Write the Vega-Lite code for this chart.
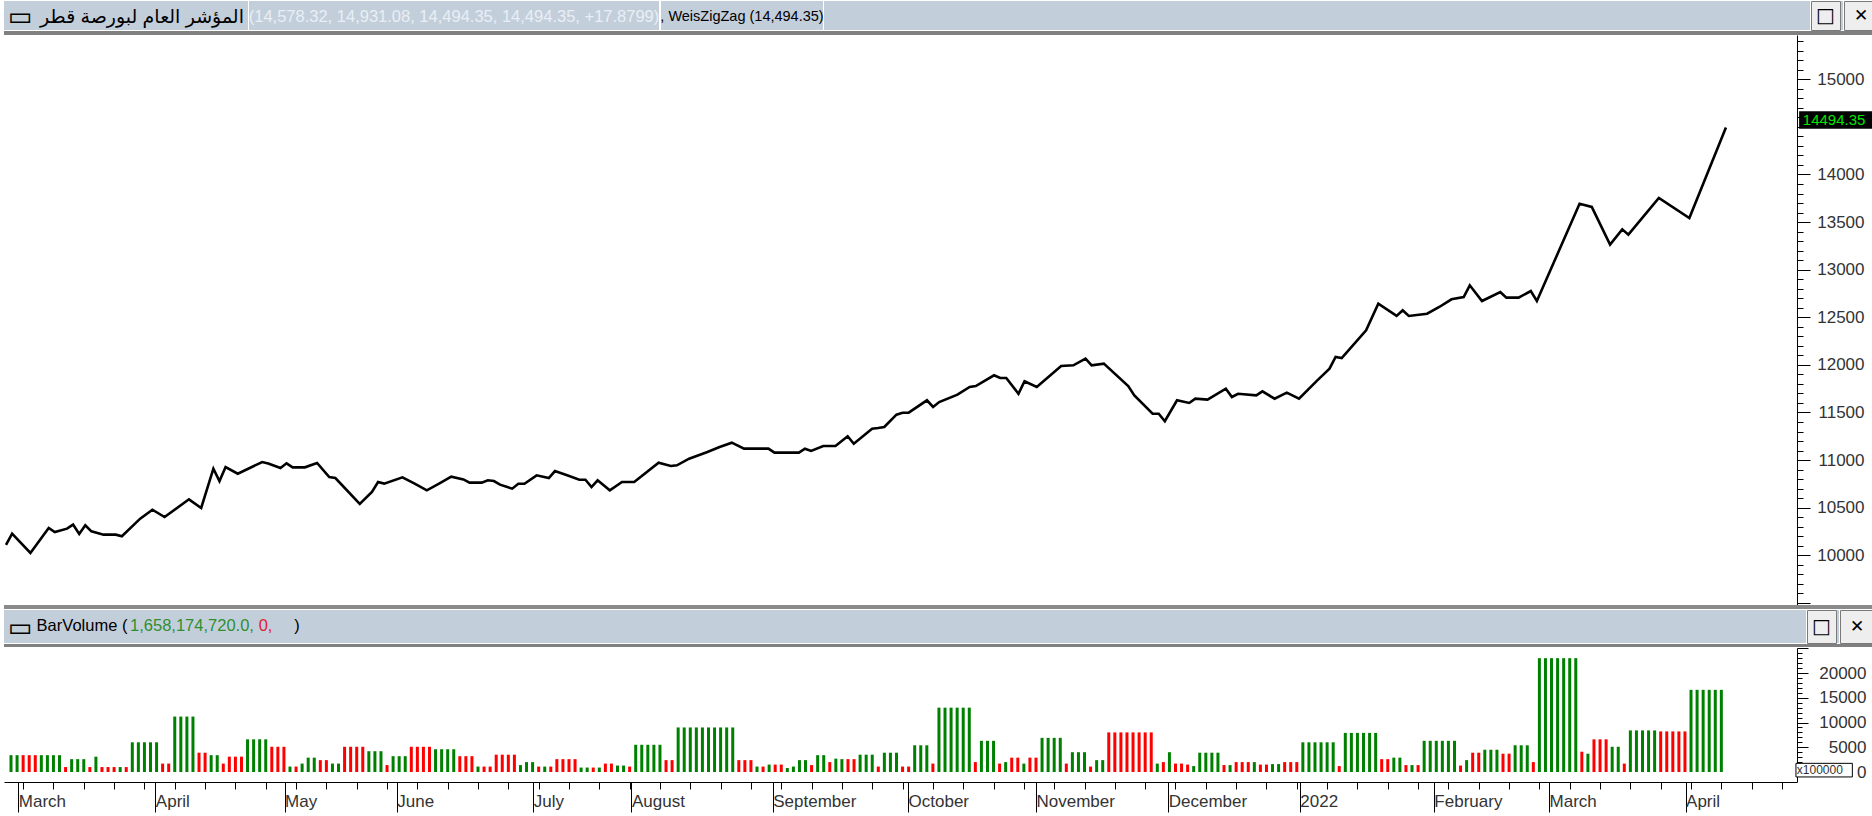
{
"$schema": "https://vega.github.io/schema/vega-lite/v6.json",
"background": "white",
"padding": 0,
"spacing": 0,
"config": {"view": {"stroke": null}, "font": "Liberation Sans"},
"datasets": {
"price": [{"b":0,"p":10110},{"b":1,"p":10227},{"b":4,"p":10024},{"b":7,"p":10287},{"b":8,"p":10245},{"b":10,"p":10280},{"b":11,"p":10322},{"b":12,"p":10224},{"b":13,"p":10315},{"b":14,"p":10252},{"b":16,"p":10217},{"b":18,"p":10217},{"b":19,"p":10200},{"b":22,"p":10385},{"b":24,"p":10479},{"b":26,"p":10402},{"b":30,"p":10588},{"b":32,"p":10497},{"b":34,"p":10910},{"b":35,"p":10780},{"b":36,"p":10927},{"b":38,"p":10857},{"b":42,"p":10980},{"b":43,"p":10965},{"b":45,"p":10917},{"b":46,"p":10966},{"b":47,"p":10924},{"b":49,"p":10924},{"b":51,"p":10970},{"b":53,"p":10822},{"b":54,"p":10812},{"b":58,"p":10539},{"b":60,"p":10665},{"b":61,"p":10770},{"b":62,"p":10753},{"b":65,"p":10819},{"b":67,"p":10753},{"b":69,"p":10683},{"b":71,"p":10753},{"b":73,"p":10826},{"b":75,"p":10797},{"b":76,"p":10763},{"b":78,"p":10763},{"b":79,"p":10788},{"b":80,"p":10780},{"b":81,"p":10742},{"b":83,"p":10700},{"b":84,"p":10752},{"b":85,"p":10752},{"b":87,"p":10840},{"b":89,"p":10812},{"b":90,"p":10885},{"b":92,"p":10840},{"b":94,"p":10794},{"b":95,"p":10794},{"b":96,"p":10717},{"b":97,"p":10788},{"b":99,"p":10683},{"b":101,"p":10770},{"b":103,"p":10770},{"b":107,"p":10973},{"b":109,"p":10938},{"b":110,"p":10945},{"b":112,"p":11015},{"b":115,"p":11085},{"b":117,"p":11138},{"b":119,"p":11183},{"b":121,"p":11120},{"b":125,"p":11120},{"b":126,"p":11078},{"b":130,"p":11078},{"b":131,"p":11120},{"b":132,"p":11096},{"b":134,"p":11148},{"b":136,"p":11148},{"b":138,"p":11250},{"b":139,"p":11172},{"b":142,"p":11330},{"b":143,"p":11337},{"b":144,"p":11348},{"b":146,"p":11477},{"b":147,"p":11498},{"b":148,"p":11498},{"b":151,"p":11628},{"b":152,"p":11558},{"b":153,"p":11610},{"b":156,"p":11687},{"b":158,"p":11768},{"b":159,"p":11778},{"b":162,"p":11891},{"b":163,"p":11862},{"b":164,"p":11862},{"b":166,"p":11697},{"b":167,"p":11828},{"b":169,"p":11768},{"b":173,"p":11988},{"b":175,"p":11996},{"b":177,"p":12065},{"b":178,"p":11996},{"b":180,"p":12013},{"b":184,"p":11778},{"b":185,"p":11680},{"b":188,"p":11487},{"b":189,"p":11487},{"b":190,"p":11408},{"b":192,"p":11628},{"b":194,"p":11600},{"b":195,"p":11645},{"b":197,"p":11635},{"b":200,"p":11750},{"b":201,"p":11663},{"b":202,"p":11697},{"b":205,"p":11680},{"b":206,"p":11722},{"b":208,"p":11645},{"b":210,"p":11708},{"b":212,"p":11645},{"b":215,"p":11838},{"b":217,"p":11960},{"b":218,"p":12083},{"b":219,"p":12072},{"b":223,"p":12363},{"b":225,"p":12643},{"b":228,"p":12514},{"b":229,"p":12574},{"b":230,"p":12514},{"b":233,"p":12538},{"b":235,"p":12608},{"b":237,"p":12689},{"b":239,"p":12713},{"b":240,"p":12836},{"b":242,"p":12671},{"b":245,"p":12766},{"b":246,"p":12706},{"b":248,"p":12706},{"b":250,"p":12776},{"b":251,"p":12671},{"b":258,"p":13693},{"b":260,"p":13659},{"b":263,"p":13263},{"b":265,"p":13424},{"b":266,"p":13368},{"b":271,"p":13753},{"b":276,"p":13543},{"b":282,"p":14494.35}],
"vol": [{"b":0,"v":3400,"c":"g"},{"b":1,"v":3400,"c":"g"},{"b":2,"v":3400,"c":"r"},{"b":3,"v":3400,"c":"r"},{"b":4,"v":3400,"c":"r"},{"b":5,"v":3400,"c":"g"},{"b":6,"v":3400,"c":"g"},{"b":7,"v":3400,"c":"g"},{"b":8,"v":3400,"c":"g"},{"b":9,"v":1000,"c":"r"},{"b":10,"v":2600,"c":"g"},{"b":11,"v":2600,"c":"g"},{"b":12,"v":2600,"c":"g"},{"b":13,"v":1000,"c":"r"},{"b":14,"v":3100,"c":"g"},{"b":15,"v":1000,"c":"r"},{"b":16,"v":1000,"c":"r"},{"b":17,"v":1000,"c":"r"},{"b":18,"v":1000,"c":"g"},{"b":19,"v":1000,"c":"r"},{"b":20,"v":6000,"c":"g"},{"b":21,"v":6000,"c":"g"},{"b":22,"v":6000,"c":"g"},{"b":23,"v":6000,"c":"g"},{"b":24,"v":6000,"c":"g"},{"b":25,"v":1700,"c":"r"},{"b":26,"v":1700,"c":"r"},{"b":27,"v":11200,"c":"g"},{"b":28,"v":11200,"c":"g"},{"b":29,"v":11200,"c":"g"},{"b":30,"v":11200,"c":"g"},{"b":31,"v":3900,"c":"r"},{"b":32,"v":3900,"c":"r"},{"b":33,"v":3400,"c":"g"},{"b":34,"v":3400,"c":"g"},{"b":35,"v":1700,"c":"r"},{"b":36,"v":3100,"c":"r"},{"b":37,"v":3100,"c":"r"},{"b":38,"v":3100,"c":"r"},{"b":39,"v":6600,"c":"g"},{"b":40,"v":6600,"c":"g"},{"b":41,"v":6600,"c":"g"},{"b":42,"v":6600,"c":"g"},{"b":43,"v":5100,"c":"r"},{"b":44,"v":5100,"c":"r"},{"b":45,"v":5100,"c":"r"},{"b":46,"v":1100,"c":"g"},{"b":47,"v":1100,"c":"r"},{"b":48,"v":1700,"c":"g"},{"b":49,"v":2900,"c":"g"},{"b":50,"v":2900,"c":"g"},{"b":51,"v":2400,"c":"r"},{"b":52,"v":2400,"c":"r"},{"b":53,"v":1700,"c":"g"},{"b":54,"v":1700,"c":"g"},{"b":55,"v":5100,"c":"r"},{"b":56,"v":5100,"c":"r"},{"b":57,"v":5100,"c":"r"},{"b":58,"v":5100,"c":"r"},{"b":59,"v":4200,"c":"g"},{"b":60,"v":4200,"c":"g"},{"b":61,"v":4200,"c":"g"},{"b":62,"v":1400,"c":"r"},{"b":63,"v":3200,"c":"g"},{"b":64,"v":3200,"c":"g"},{"b":65,"v":3200,"c":"g"},{"b":66,"v":5100,"c":"r"},{"b":67,"v":5100,"c":"r"},{"b":68,"v":5100,"c":"r"},{"b":69,"v":5100,"c":"r"},{"b":70,"v":4600,"c":"g"},{"b":71,"v":4600,"c":"g"},{"b":72,"v":4600,"c":"g"},{"b":73,"v":4600,"c":"g"},{"b":74,"v":3200,"c":"r"},{"b":75,"v":3200,"c":"r"},{"b":76,"v":3200,"c":"r"},{"b":77,"v":1100,"c":"g"},{"b":78,"v":1100,"c":"r"},{"b":79,"v":1100,"c":"r"},{"b":80,"v":3500,"c":"r"},{"b":81,"v":3500,"c":"r"},{"b":82,"v":3500,"c":"r"},{"b":83,"v":3500,"c":"r"},{"b":84,"v":1400,"c":"g"},{"b":85,"v":2000,"c":"g"},{"b":86,"v":2000,"c":"g"},{"b":87,"v":1100,"c":"r"},{"b":88,"v":1100,"c":"g"},{"b":89,"v":1100,"c":"r"},{"b":90,"v":2600,"c":"r"},{"b":91,"v":2600,"c":"r"},{"b":92,"v":2600,"c":"r"},{"b":93,"v":2600,"c":"r"},{"b":94,"v":900,"c":"g"},{"b":95,"v":900,"c":"g"},{"b":96,"v":900,"c":"r"},{"b":97,"v":900,"c":"g"},{"b":98,"v":1700,"c":"r"},{"b":99,"v":1700,"c":"r"},{"b":100,"v":1300,"c":"g"},{"b":101,"v":1300,"c":"g"},{"b":102,"v":1100,"c":"r"},{"b":103,"v":5500,"c":"g"},{"b":104,"v":5500,"c":"g"},{"b":105,"v":5500,"c":"g"},{"b":106,"v":5500,"c":"g"},{"b":107,"v":5500,"c":"g"},{"b":108,"v":2400,"c":"r"},{"b":109,"v":2400,"c":"r"},{"b":110,"v":9000,"c":"g"},{"b":111,"v":9000,"c":"g"},{"b":112,"v":9000,"c":"g"},{"b":113,"v":9000,"c":"g"},{"b":114,"v":9000,"c":"g"},{"b":115,"v":9000,"c":"g"},{"b":116,"v":9000,"c":"g"},{"b":117,"v":9000,"c":"g"},{"b":118,"v":9000,"c":"g"},{"b":119,"v":9000,"c":"g"},{"b":120,"v":2400,"c":"r"},{"b":121,"v":2400,"c":"r"},{"b":122,"v":2400,"c":"r"},{"b":123,"v":1100,"c":"g"},{"b":124,"v":1100,"c":"r"},{"b":125,"v":1500,"c":"g"},{"b":126,"v":1500,"c":"r"},{"b":127,"v":1500,"c":"r"},{"b":128,"v":800,"c":"g"},{"b":129,"v":1100,"c":"g"},{"b":130,"v":2400,"c":"g"},{"b":131,"v":2400,"c":"g"},{"b":132,"v":1400,"c":"r"},{"b":133,"v":3400,"c":"g"},{"b":134,"v":3400,"c":"g"},{"b":135,"v":2000,"c":"r"},{"b":136,"v":2700,"c":"g"},{"b":137,"v":2600,"c":"g"},{"b":138,"v":2600,"c":"r"},{"b":139,"v":2600,"c":"r"},{"b":140,"v":3500,"c":"g"},{"b":141,"v":3500,"c":"g"},{"b":142,"v":3500,"c":"g"},{"b":143,"v":1100,"c":"r"},{"b":144,"v":3900,"c":"g"},{"b":145,"v":3900,"c":"g"},{"b":146,"v":3900,"c":"g"},{"b":147,"v":1100,"c":"r"},{"b":148,"v":1100,"c":"r"},{"b":149,"v":5400,"c":"g"},{"b":150,"v":5400,"c":"g"},{"b":151,"v":5400,"c":"g"},{"b":152,"v":1700,"c":"r"},{"b":153,"v":13000,"c":"g"},{"b":154,"v":13000,"c":"g"},{"b":155,"v":13000,"c":"g"},{"b":156,"v":13000,"c":"g"},{"b":157,"v":13000,"c":"g"},{"b":158,"v":13000,"c":"g"},{"b":159,"v":2000,"c":"r"},{"b":160,"v":6300,"c":"g"},{"b":161,"v":6300,"c":"g"},{"b":162,"v":6300,"c":"g"},{"b":163,"v":1700,"c":"r"},{"b":164,"v":2000,"c":"g"},{"b":165,"v":2900,"c":"r"},{"b":166,"v":2900,"c":"r"},{"b":167,"v":1700,"c":"g"},{"b":168,"v":2900,"c":"r"},{"b":169,"v":2900,"c":"r"},{"b":170,"v":6900,"c":"g"},{"b":171,"v":6900,"c":"g"},{"b":172,"v":6900,"c":"g"},{"b":173,"v":6900,"c":"g"},{"b":174,"v":1700,"c":"r"},{"b":175,"v":4000,"c":"g"},{"b":176,"v":4000,"c":"g"},{"b":177,"v":4000,"c":"g"},{"b":178,"v":1100,"c":"r"},{"b":179,"v":2400,"c":"g"},{"b":180,"v":2400,"c":"g"},{"b":181,"v":8000,"c":"r"},{"b":182,"v":8000,"c":"r"},{"b":183,"v":8000,"c":"r"},{"b":184,"v":8000,"c":"r"},{"b":185,"v":8000,"c":"r"},{"b":186,"v":8000,"c":"r"},{"b":187,"v":8000,"c":"r"},{"b":188,"v":8000,"c":"r"},{"b":189,"v":1700,"c":"g"},{"b":190,"v":2000,"c":"r"},{"b":191,"v":4000,"c":"g"},{"b":192,"v":1700,"c":"r"},{"b":193,"v":1700,"c":"r"},{"b":194,"v":1500,"c":"r"},{"b":195,"v":1200,"c":"g"},{"b":196,"v":3900,"c":"g"},{"b":197,"v":3900,"c":"g"},{"b":198,"v":3900,"c":"g"},{"b":199,"v":3900,"c":"g"},{"b":200,"v":1400,"c":"r"},{"b":201,"v":1400,"c":"g"},{"b":202,"v":2000,"c":"r"},{"b":203,"v":2000,"c":"r"},{"b":204,"v":2000,"c":"r"},{"b":205,"v":2000,"c":"g"},{"b":206,"v":1500,"c":"r"},{"b":207,"v":1500,"c":"r"},{"b":208,"v":1600,"c":"g"},{"b":209,"v":1600,"c":"g"},{"b":210,"v":2000,"c":"r"},{"b":211,"v":2000,"c":"r"},{"b":212,"v":2000,"c":"r"},{"b":213,"v":6000,"c":"g"},{"b":214,"v":6000,"c":"g"},{"b":215,"v":6000,"c":"g"},{"b":216,"v":6000,"c":"g"},{"b":217,"v":6000,"c":"g"},{"b":218,"v":6000,"c":"g"},{"b":219,"v":1200,"c":"r"},{"b":220,"v":7900,"c":"g"},{"b":221,"v":7900,"c":"g"},{"b":222,"v":7900,"c":"g"},{"b":223,"v":7900,"c":"g"},{"b":224,"v":7900,"c":"g"},{"b":225,"v":7900,"c":"g"},{"b":226,"v":2600,"c":"r"},{"b":227,"v":2600,"c":"r"},{"b":228,"v":2900,"c":"g"},{"b":229,"v":2900,"c":"g"},{"b":230,"v":1400,"c":"r"},{"b":231,"v":1400,"c":"g"},{"b":232,"v":1400,"c":"r"},{"b":233,"v":6300,"c":"g"},{"b":234,"v":6300,"c":"g"},{"b":235,"v":6300,"c":"g"},{"b":236,"v":6300,"c":"g"},{"b":237,"v":6300,"c":"g"},{"b":238,"v":6300,"c":"g"},{"b":239,"v":1300,"c":"r"},{"b":240,"v":2400,"c":"g"},{"b":241,"v":3900,"c":"r"},{"b":242,"v":3900,"c":"r"},{"b":243,"v":4500,"c":"g"},{"b":244,"v":4500,"c":"g"},{"b":245,"v":4500,"c":"g"},{"b":246,"v":3700,"c":"r"},{"b":247,"v":3700,"c":"r"},{"b":248,"v":5400,"c":"g"},{"b":249,"v":5400,"c":"g"},{"b":250,"v":5400,"c":"g"},{"b":251,"v":2000,"c":"r"},{"b":252,"v":23000,"c":"g"},{"b":253,"v":23000,"c":"g"},{"b":254,"v":23000,"c":"g"},{"b":255,"v":23000,"c":"g"},{"b":256,"v":23000,"c":"g"},{"b":257,"v":23000,"c":"g"},{"b":258,"v":23000,"c":"g"},{"b":259,"v":4100,"c":"r"},{"b":260,"v":3700,"c":"g"},{"b":261,"v":6600,"c":"r"},{"b":262,"v":6600,"c":"r"},{"b":263,"v":6600,"c":"r"},{"b":264,"v":5100,"c":"g"},{"b":265,"v":5100,"c":"g"},{"b":266,"v":1700,"c":"r"},{"b":267,"v":8400,"c":"g"},{"b":268,"v":8400,"c":"g"},{"b":269,"v":8400,"c":"g"},{"b":270,"v":8400,"c":"g"},{"b":271,"v":8400,"c":"g"},{"b":272,"v":8200,"c":"r"},{"b":273,"v":8200,"c":"r"},{"b":274,"v":8200,"c":"r"},{"b":275,"v":8200,"c":"r"},{"b":276,"v":8200,"c":"r"},{"b":277,"v":16600,"c":"g"},{"b":278,"v":16600,"c":"g"},{"b":279,"v":16600,"c":"g"},{"b":280,"v":16600,"c":"g"},{"b":281,"v":16600,"c":"g"},{"b":282,"v":16600,"c":"g"}]
},
"vconcat": [
{"hconcat": [
  {"width":32,"height":29,"view":{"fill":"#c3cedb","stroke":null},"data":{"values":[{"t":"▭"}]},"mark":{"type":"text","align":"center","baseline":"middle","dy":1,"font":"DejaVu Sans","fontSize":26,"fontWeight":"bold","color":"black"},"encoding":{"text":{"field":"t"}}},
  {"width":212,"height":29,"view":{"fill":"#c3cedb","stroke":null},"data":{"values":[{"t":"المؤشر العام لبورصة قطر"}]},"mark":{"type":"text","align":"center","baseline":"middle","dy":1,"font":"Liberation Sans, DejaVu Sans","fontSize":19,"color":"black"},"encoding":{"text":{"field":"t"}}},
  {"width":410,"height":29,"view":{"fill":"#c3cedb","stroke":null},"data":{"values":[{"t":"(14,578.32, 14,931.08, 14,494.35, 14,494.35, +17.8799)"}]},"mark":{"type":"text","align":"center","baseline":"middle","dy":1,"font":"Liberation Sans","fontSize":16.5,"color":"#e9eef4"},"encoding":{"text":{"field":"t"}}},
  {"width":162,"height":29,"view":{"fill":"#c3cedb","stroke":null},"data":{"values":[{"t":", WeisZigZag (14,494.35)"}]},"mark":{"type":"text","align":"center","baseline":"middle","dy":1,"font":"Liberation Sans","fontSize":14.5,"color":"black"},"encoding":{"text":{"field":"t"}}},
  {"width":984,"height":29,"view":{"fill":"#c3cedb","stroke":null},"data":{"values":[{}]},"mark":{"type":"text","text":"","fontSize":1}},
  {"width":2,"height":29,"view":{"fill":"#c3cedb","stroke":null},"data":{"values":[{}]},"mark":{"type":"text","text":"","fontSize":1}},
  {"width":29,"height":29,"view":{"fill":"#eeeeee","stroke":"#7a7a7a"},"data":{"values":[{"t":"□"}]},"mark":{"type":"text","align":"center","baseline":"middle","font":"DejaVu Sans","fontSize":20,"fontWeight":"bold","color":"black"},"encoding":{"text":{"field":"t"}}},
  {"width":2,"height":29,"view":{"fill":"#c3cedb","stroke":null},"data":{"values":[{}]},"mark":{"type":"text","text":"","fontSize":1}},
  {"width":34,"height":29,"view":{"fill":"#eeeeee","stroke":"#7a7a7a"},"data":{"values":[{"t":"✕"}]},"mark":{"type":"text","align":"center","baseline":"middle","font":"DejaVu Sans","fontSize":17,"fontWeight":"bold","color":"black"},"encoding":{"text":{"field":"t"}}},
  {"width":5,"height":29,"view":{"fill":"#c3cedb","stroke":null},"data":{"values":[{}]},"mark":{"type":"text","text":"","fontSize":1}}
],"spacing":0},
{"width":1872,"height":4,"view":{"fill":"#808080","stroke":null},"data":{"values":[{}]},"mark":{"type":"text","text":"","fontSize":1}},
{"width":1872,"height":570,"view":{"fill":"white","stroke":null},
 "layer":[
  {"data":{"name":"price"},"mark":{"type":"line","color":"black","strokeWidth":2.6},
   "encoding":{
    "x":{"field":"b","type":"quantitative","scale":{"domain":[-0.33,293.65],"range":[0,1793],"nice":false,"zero":false},"axis":null},
    "y":{"field":"p","type":"quantitative","scale":{"domain":[9478,15465],"nice":false,"zero":false},
     "axis":{"orient":"right","offset":-79,"tickCount":1000,"values":[9500,9600,9700,9800,9900,10000,10100,10200,10300,10400,10500,10600,10700,10800,10900,11000,11100,11200,11300,11400,11500,11600,11700,11800,11900,12000,12100,12200,12300,12400,12500,12600,12700,12800,12900,13000,13100,13200,13300,13400,13500,13600,13700,13800,13900,14000,14100,14200,14300,14400,14500,14600,14700,14800,14900,15000,15100,15200,15300,15400],
      "format":"d","labelExpr":"datum.value % 500 === 0 && datum.value >= 10000 && datum.value != 14500 ? datum.label : ''",
      "labelFontSize":{"condition":{"test":"datum.value % 500 === 0 && datum.value >= 10000 && datum.value != 14500","value":17},"value":1},
      "tickSize":{"condition":{"test":"datum.value % 500 === 0","value":13},"value":6},
      "tickColor":"black","domainColor":"black","labelColor":"#333333","labelFont":"Liberation Sans",
      "labelAlign":"right","labelBaseline":"middle","labelPadding":54,"labelOverlap":false,"labelFlush":false,"grid":false,"title":null}}
   }},
  {"data":{"values":[{"p":14494.35}]},"mark":{"type":"rect","color":"black"},
   "encoding":{"x":{"datum":294.0},"x2":{"datum":306.8},"y":{"datum":14665},"y2":{"datum":14480}}},
  {"data":{"values":[{"t":"14494.35"}]},"mark":{"type":"text","align":"left","baseline":"middle","color":"#00e600","fontSize":15,"font":"Liberation Sans"},
   "encoding":{"x":{"datum":294.6},"y":{"datum":14572},"text":{"field":"t"}}}
 ]},
{"width":1872,"height":4,"view":{"fill":"#8a8a8a","stroke":null},"data":{"values":[{}]},"mark":{"type":"text","text":"","fontSize":1}},
{"hconcat": [
  {"width":32,"height":33,"view":{"fill":"#c3cedb","stroke":null},"data":{"values":[{"t":"▭"}]},"mark":{"type":"text","align":"center","baseline":"middle","dy":1,"font":"DejaVu Sans","fontSize":26,"fontWeight":"bold","color":"black"},"encoding":{"text":{"field":"t"}}},
  {"width":92,"height":33,"view":{"fill":"#c3cedb","stroke":null},"data":{"values":[{"t":"BarVolume ("}]},"mark":{"type":"text","align":"center","baseline":"middle","dy":-1,"font":"Liberation Sans","fontSize":16.5,"color":"black"},"encoding":{"text":{"field":"t"}}},
  {"width":128,"height":33,"view":{"fill":"#c3cedb","stroke":null},"data":{"values":[{"t":"1,658,174,720.0,"}]},"mark":{"type":"text","align":"center","baseline":"middle","dy":-1,"font":"Liberation Sans","fontSize":16.5,"color":"#2f8f2f"},"encoding":{"text":{"field":"t"}}},
  {"width":19,"height":33,"view":{"fill":"#c3cedb","stroke":null},"data":{"values":[{"t":"0,"}]},"mark":{"type":"text","align":"center","baseline":"middle","dy":-1,"font":"Liberation Sans","fontSize":16.5,"color":"#e02030"},"encoding":{"text":{"field":"t"}}},
  {"width":17,"height":33,"view":{"fill":"#c3cedb","stroke":null},"data":{"values":[{}]},"mark":{"type":"text","text":"","fontSize":1}},
  {"width":10,"height":33,"view":{"fill":"#c3cedb","stroke":null},"data":{"values":[{"t":")"}]},"mark":{"type":"text","align":"center","baseline":"middle","dy":-1,"font":"Liberation Sans","fontSize":16.5,"color":"black"},"encoding":{"text":{"field":"t"}}},
  {"width":1502,"height":33,"view":{"fill":"#c3cedb","stroke":null},"data":{"values":[{}]},"mark":{"type":"text","text":"","fontSize":1}},
  {"width":2,"height":33,"view":{"fill":"#c3cedb","stroke":null},"data":{"values":[{}]},"mark":{"type":"text","text":"","fontSize":1}},
  {"width":29,"height":33,"view":{"fill":"#eeeeee","stroke":"#7a7a7a"},"data":{"values":[{"t":"□"}]},"mark":{"type":"text","align":"center","baseline":"middle","font":"DejaVu Sans","fontSize":20,"fontWeight":"bold","color":"black"},"encoding":{"text":{"field":"t"}}},
  {"width":2,"height":33,"view":{"fill":"#c3cedb","stroke":null},"data":{"values":[{}]},"mark":{"type":"text","text":"","fontSize":1}},
  {"width":34,"height":33,"view":{"fill":"#eeeeee","stroke":"#7a7a7a"},"data":{"values":[{"t":"✕"}]},"mark":{"type":"text","align":"center","baseline":"middle","font":"DejaVu Sans","fontSize":17,"fontWeight":"bold","color":"black"},"encoding":{"text":{"field":"t"}}},
  {"width":5,"height":33,"view":{"fill":"#c3cedb","stroke":null},"data":{"values":[{}]},"mark":{"type":"text","text":"","fontSize":1}}
],"spacing":0},
{"width":1872,"height":3,"view":{"fill":"#808080","stroke":null},"data":{"values":[{}]},"mark":{"type":"text","text":"","fontSize":1}},
{"width":1872,"height":134,"view":{"fill":"white","stroke":null},
 "layer":[
  {"data":{"name":"vol"},"mark":{"type":"bar","width":3},
   "encoding":{
    "x":{"field":"b","type":"quantitative","scale":{"domain":[-0.33,293.65],"range":[0,1793],"nice":false,"zero":false},
     "axis":{"orient":"bottom","tickCount":1000,"values":[2,7,12,17,22,27,32,37,42,47,52,57,62,67,72,77,82,87,92,97,102,107,112,117,122,127,132,137,142,147,152,157,162,167,172,177,182,187,192,197,202,207,212,217,222,227,232,237,242,247,252,257,262,267,272,277,282,287,292,1.2,23.8,45.1,63.6,86.1,102.3,125.6,147.9,169,190.8,212.5,234.6,253.6,276.1],
      "labelExpr":"datum.value == 1.2 ? 'March' : datum.value == 23.8 ? 'April' : datum.value == 45.1 ? 'May' : datum.value == 63.6 ? 'June' : datum.value == 86.1 ? 'July' : datum.value == 102.3 ? 'August' : datum.value == 125.6 ? 'September' : datum.value == 147.9 ? 'October' : datum.value == 169 ? 'November' : datum.value == 190.8 ? 'December' : datum.value == 212.5 ? '2022' : datum.value == 234.6 ? 'February' : datum.value == 253.6 ? 'March' : datum.value == 276.1 ? 'April' : ''",
      "tickSize":{"condition":{"test":"indexof([1.2,23.8,45.1,63.6,86.1,102.3,125.6,147.9,169,190.8,212.5,234.6,253.6,276.1], datum.value) >= 0","value":30},"value":7},
      "labelFontSize":{"condition":{"test":"indexof([1.2,23.8,45.1,63.6,86.1,102.3,125.6,147.9,169,190.8,212.5,234.6,253.6,276.1], datum.value) >= 0","value":17},"value":1},
      "tickColor":"black","domainColor":"black","labelColor":"#333333","labelFont":"Liberation Sans",
      "labelAlign":"left","labelBaseline":"top","labelPadding":-19,"labelDx":2,"labelOverlap":false,"labelFlush":false,"grid":false,"title":null}},
    "y":{"field":"v","type":"quantitative","scale":{"domain":[-2020,25051],"nice":false,"zero":false},
     "axis":{"orient":"right","offset":-79,"tickCount":1000,"values":[0,1000,2000,3000,4000,5000,6000,7000,8000,9000,10000,11000,12000,13000,14000,15000,16000,17000,18000,19000,20000,21000,22000,23000,24000,25000],
      "format":"d","labelExpr":"datum.value % 5000 === 0 && datum.value < 25000 ? datum.label : ''",
      "labelFontSize":{"condition":{"test":"datum.value % 5000 === 0 && datum.value < 25000","value":17},"value":1},
      "tickSize":{"condition":{"test":"datum.value % 5000 === 0","value":11},"value":5},
      "tickColor":"black","domainColor":"black","labelColor":"#333333","labelFont":"Liberation Sans",
      "labelAlign":"right","labelBaseline":"middle","labelPadding":58,"labelOverlap":false,"labelFlush":false,"grid":false,"title":null}},
    "y2":{"datum":0},
    "color":{"field":"c","type":"nominal","scale":{"domain":["g","r"],"range":["#008000","#ff0000"]},"legend":null}
   }},
  {"data":{"values":[{"t":"x100000"}]},"mark":{"type":"rect","fill":"white","stroke":"black","strokeWidth":1},
   "encoding":{"x":{"datum":294.3},"x2":{"datum":303.6},"y":{"datum":1750},"y2":{"datum":-1000}}},
  {"data":{"values":[{"t":"x100000"}]},"mark":{"type":"text","align":"left","baseline":"middle","color":"#333333","fontSize":12,"font":"Liberation Sans"},
   "encoding":{"x":{"datum":294.45},"y":{"datum":380},"text":{"field":"t"}}}
 ]}
]
}
